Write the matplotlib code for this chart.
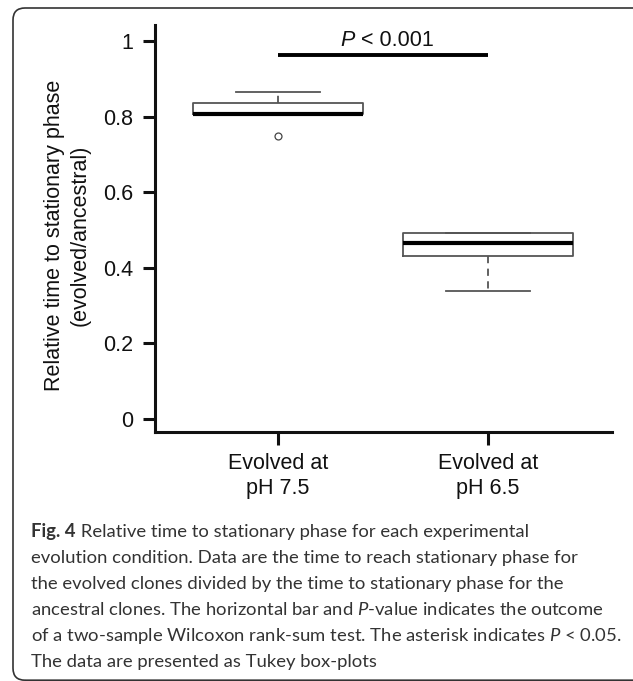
import matplotlib
matplotlib.use("Agg")
import matplotlib.pyplot as plt
from matplotlib.patches import FancyBboxPatch

# ---------------- data ----------------
categories = ["Evolved at\npH 7.5", "Evolved at\npH 6.5"]
medians = [0.808, 0.466]
q1 = [0.806, 0.431]
q3 = [0.836, 0.492]
whisker_low = [0.806, 0.339]
whisker_high = [0.865, 0.492]
outliers = [[0.749], []]
yticks = [0, 0.2, 0.4, 0.6, 0.8, 1.0]
ytick_labels = ["0", "0.2", "0.4", "0.6", "0.8", "1"]
sig_pair = [1, 2]
sig_level = 0.963
p_text = ("P", " < 0.001")
ylabel = "Relative time to stationary phase\n(evolved/ancestral)"
caption_head = "Fig. 4"
caption_lines = [
    " Relative time to stationary phase for each experimental",
    "evolution condition. Data are the time to reach stationary phase for",
    "the evolved clones divided by the time to stationary phase for the",
    r"ancestral clones. The horizontal bar and $P$-value indicates the outcome",
    r"of a two-sample Wilcoxon rank-sum test. The asterisk indicates $P$ < 0.05.",
    "The data are presented as Tukey box-plots",
]

plt.rcParams["mathtext.fontset"] = "custom"
plt.rcParams["mathtext.rm"] = "Lato"
plt.rcParams["mathtext.it"] = "Lato:italic"
plt.rcParams["mathtext.bf"] = "Lato:bold"

W, H = 633, 681
fig = plt.figure(figsize=(W / 100, H / 100), dpi=100)
fig.patch.set_facecolor("white")

chart_font = "Liberation Sans"
fs = 15.5

ax = fig.add_axes([155 / W, 1 - 432 / H, (612 - 155) / W, (432 - 25) / H])
stats = []
for i in range(len(categories)):
    stats.append(dict(med=medians[i], q1=q1[i], q3=q3[i],
                      whislo=whisker_low[i], whishi=whisker_high[i],
                      fliers=outliers[i]))
ax.bxp(stats, positions=[1, 2], widths=0.81, capwidths=0.4,
       boxprops=dict(color="#555555", lw=1.3),
       whiskerprops=dict(color="#555555", lw=1.3, ls=(0, (4, 3))),
       capprops=dict(color="#555555", lw=1.3),
       medianprops=dict(color="black", lw=3.0, solid_capstyle="butt"),
       flierprops=dict(marker="o", markerfacecolor="none",
                       markeredgecolor="#444444", markersize=5, markeredgewidth=0.9))

ax.plot(sig_pair, [sig_level, sig_level], color="black", lw=2.8,
        solid_capstyle="butt")
ax.text(1.367, 0.987, p_text[0], family=chart_font, style="italic",
        fontsize=fs, ha="right", va="baseline", color="#111111")
ax.text(1.367, 0.987, p_text[1], family=chart_font,
        fontsize=fs, ha="left", va="baseline", color="#111111")

ax.set_xlim(0.414, 2.59)
ax.set_ylim(-0.034, 1.042)
ax.set_yticks(yticks)
ax.set_yticklabels(ytick_labels)
ax.set_xticks([1, 2])
ax.set_xticklabels(categories, linespacing=1.25)
for sp in ["top", "right"]:
    ax.spines[sp].set_visible(False)
for sp in ["left", "bottom"]:
    ax.spines[sp].set_linewidth(2.2)
    ax.spines[sp].set_color("#111111")
ax.tick_params(axis="y", length=8.6, width=2.2, pad=7, labelsize=fs,
               colors="#111111")
ax.tick_params(axis="x", length=9.4, width=2.2, pad=6, labelsize=fs,
               colors="#111111")
for lab in ax.get_xticklabels() + ax.get_yticklabels():
    lab.set_family(chart_font)

fig.text(67 / W, 1 - 235 / H, ylabel, rotation=90, ha="center", va="center",
         multialignment="center", family=chart_font, fontsize=fs,
         linespacing=1.3, color="#111111")

# frame
frame = FancyBboxPatch((13, 0.8), 640, 672.2,
                       boxstyle="round,pad=0,rounding_size=12",
                       transform=None, fill=False, edgecolor="#333333",
                       lw=1.2)
fig.add_artist(frame)

# caption
left_px = 31
baselines = [537, 563, 589, 615, 641, 667]
head = fig.text(left_px / W, 1 - baselines[0] / H, caption_head, family="Lato",
                weight="bold", fontsize=13, ha="left", va="baseline",
                color="#333333")
cap_texts = []
for line, b in zip(caption_lines, baselines):
    t = fig.text(left_px / W, 1 - b / H, line, family="Lato", fontsize=13,
                 ha="left", va="baseline", color="#333333")
    cap_texts.append(t)

fig.canvas.draw()
r = fig.canvas.get_renderer()
wid = cap_texts[4].get_window_extent(r).width
scale = 588 / wid
head.set_fontsize(13 * scale)
for t in cap_texts:
    t.set_fontsize(13 * scale)
fig.canvas.draw()
hw = head.get_window_extent(r).width
cap_texts[0].set_x((left_px + hw) / W)

fig.savefig("out.png", dpi=100)
